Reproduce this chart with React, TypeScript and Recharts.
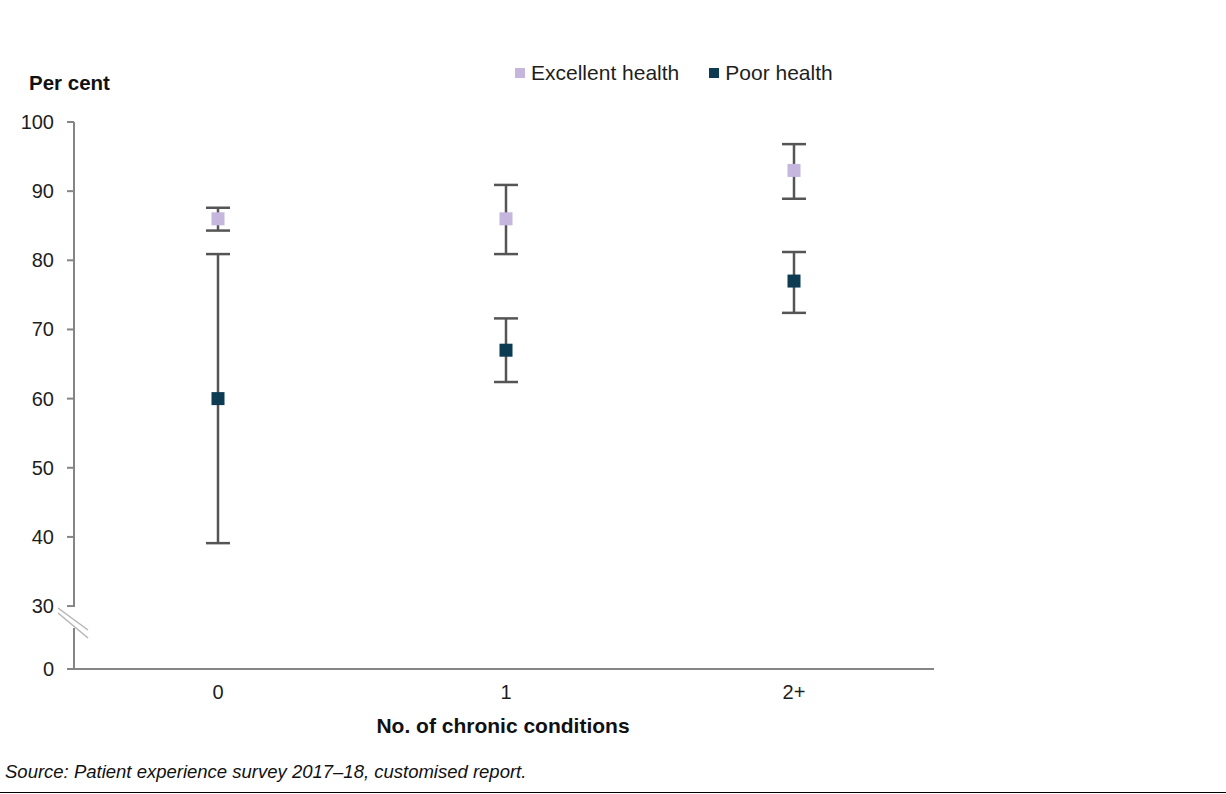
import React from 'react';
import {
  ComposedChart, Scatter, ErrorBar, XAxis, YAxis, Legend,
} from 'recharts';

// Values
const categories = ['0', '1', '2+'];
const excellent = [86, 86, 93];
const excellentLow = [84.3, 80.9, 88.9];
const excellentHigh = [87.6, 90.9, 96.8];
const poor = [60, 67, 77];
const poorLow = [39.1, 62.4, 72.4];
const poorHigh = [80.9, 71.6, 81.2];

// broken axis: the bottom tick is labelled 0 but sits below 30
const AXIS_FLOOR = 20.9;
const yTicks = [AXIS_FLOOR, 30, 40, 50, 60, 70, 80, 90, 100];

const EXC_COLOR = '#c5b6dd';
const POOR_COLOR = '#0d3b52';
const AXIS_COLOR = '#858585';
const BAR_COLOR = '#555555';
const TEXT = '#1e1e1e';
const FONT = '"Liberation Sans", Arial, sans-serif';

const data = categories.map((c, i) => ({
  cat: c,
  excellent: excellent[i],
  excErr: [excellent[i] - excellentLow[i], excellentHigh[i] - excellent[i]],
  poor: poor[i],
  poorErr: [poor[i] - poorLow[i], poorHigh[i] - poor[i]],
}));

const Square = (color: string) => (props: any) => {
  const { cx, cy } = props;
  if (cx == null || cy == null) return <g />;
  return <rect x={cx - 6.5} y={cy - 6.5} width={13} height={13} fill={color} />;
};

function YTick(props: any) {
  const { x, y, payload } = props;
  const isFloor = payload.value < 30;
  return (
    <g>
      <text x={x} y={y} dy={7} textAnchor="end" fontSize={20} fill={TEXT} fontFamily={FONT}>
        {isFloor ? '0' : payload.value}
      </text>
      {isFloor && (
        <g>
          {/* gap in the axis plus break marks */}
          <rect x={x + 16} y={y - 62} width={8} height={21} fill="#fff" />
          <line x1={x + 4} y1={y - 61} x2={x + 34} y2={y - 39} stroke="#b5b5b5" strokeWidth={1.5} />
          <line x1={x + 4} y1={y - 56} x2={x + 34} y2={y - 31} stroke="#b5b5b5" strokeWidth={1.5} />
        </g>
      )}
    </g>
  );
}

function LegendContent() {
  const items = [
    { label: 'Excellent health', color: EXC_COLOR },
    { label: 'Poor health', color: POOR_COLOR },
  ];
  return (
    <div style={{ display: 'flex', gap: 30, fontFamily: FONT, fontSize: 21, color: TEXT, whiteSpace: 'nowrap' }}>
      {items.map(it => (
        <div key={it.label} style={{ display: 'flex', alignItems: 'center', gap: 6 }}>
          <span style={{ width: 10, height: 10, background: it.color, display: 'inline-block' }} />
          <span>{it.label}</span>
        </div>
      ))}
    </div>
  );
}

export default function App() {
  return (
    <div style={{ position: 'absolute', left: 0, top: 0, width: 1226, height: 794, background: '#fff', fontFamily: FONT }}>
      <ComposedChart
        width={1226}
        height={794}
        data={data}
        margin={{ top: 122, right: 292, bottom: 95, left: 0 }}
      >
        <XAxis
          dataKey="cat"
          type="category"
          padding={{ left: 144, right: 140 }}
          axisLine={{ stroke: AXIS_COLOR, strokeWidth: 2 }}
          tickLine={false}
          height={30}
          tick={{ fontSize: 20, fill: TEXT, fontFamily: FONT }}
          tickMargin={10}
        />
        <YAxis
          type="number"
          domain={[AXIS_FLOOR, 100]}
          ticks={yTicks}
          width={74}
          axisLine={{ stroke: AXIS_COLOR, strokeWidth: 2 }}
          tickLine={{ stroke: AXIS_COLOR, strokeWidth: 2 }}
          tickSize={7}
          tickMargin={13}
          tick={<YTick />}
          allowDataOverflow
        />
        <Legend
          verticalAlign="middle"
          align="center"
          content={<LegendContent />}
          wrapperStyle={{ position: 'absolute', top: 61, left: 515, width: 'auto' }}
        />
        <Scatter dataKey="excellent" name="Excellent health" fill={EXC_COLOR}
          shape={Square(EXC_COLOR)} isAnimationActive={false}>
          <ErrorBar dataKey="excErr" direction="y" width={12} stroke={BAR_COLOR} strokeWidth={2.5} />
        </Scatter>
        <Scatter dataKey="poor" name="Poor health" fill={POOR_COLOR}
          shape={Square(POOR_COLOR)} isAnimationActive={false}>
          <ErrorBar dataKey="poorErr" direction="y" width={12} stroke={BAR_COLOR} strokeWidth={2.5} />
        </Scatter>
      </ComposedChart>

      <div style={{ position: 'absolute', left: 29, top: 71, fontSize: 20.5, fontWeight: 'bold', color: '#111' }}>
        Per cent
      </div>
      <div style={{ position: 'absolute', left: 0, width: 1006, top: 714, textAlign: 'center', fontSize: 21, fontWeight: 'bold', color: '#111' }}>
        No. of chronic conditions
      </div>
      <div style={{ position: 'absolute', left: 5, top: 761, fontSize: 18.5, fontStyle: 'italic', color: '#111' }}>
        Source: Patient experience survey 2017–18, customised report.
      </div>
      <div style={{ position: 'absolute', left: 0, top: 792, width: 1226, height: 1, background: '#000' }} />
    </div>
  );
}
